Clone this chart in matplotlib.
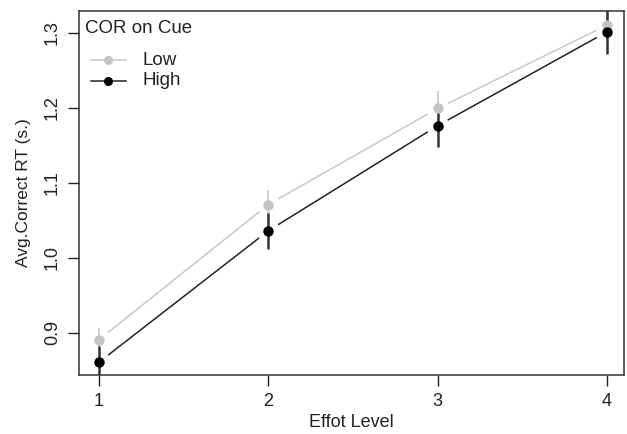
import matplotlib
matplotlib.use("Agg")
import matplotlib.pyplot as plt
import numpy as np
from matplotlib.lines import Line2D

plt.rcParams['font.family'] = ['Liberation Sans', 'DejaVu Sans']

levels = [1, 2, 3, 4]
low_mean = [0.891, 1.071, 1.199, 1.310]
low_err = [0.015, 0.020, 0.023, 0.020]
high_mean = [0.861, 1.036, 1.176, 1.301]
high_err = [0.022, 0.024, 0.028, 0.029]
yticks = [0.9, 1.0, 1.1, 1.2, 1.3]
yticklabels = ["0.9", "1.0", "1.1", "1.2", "1.3"]
series = [("Low", low_mean, low_err, "#c8c8c8", "#c4c4c4", "#cccccc", 1.3),
          ("High", high_mean, high_err, "#222222", "#000000", "#333333", 1.8)]

fig = plt.figure(figsize=(6.27, 4.34), dpi=100)
ax = fig.add_axes([0.126, 0.136, 0.869, 0.839])
ax.set_xlim(0.882, 4.10)
ax.set_ylim(0.844, 1.329)

GAP = 11.5  # pixels of gap around each point (R type="b")
for name, m, e, lc, pc, ec, ew in series:
    ax.errorbar(levels, m, yerr=e, fmt='none', ecolor=ec,
                elinewidth=ew, capsize=0, zorder=2)
    pts = ax.transData.transform(np.column_stack([levels, m]))
    inv = ax.transData.inverted()
    for i in range(len(levels) - 1):
        p0, p1 = pts[i], pts[i + 1]
        d = p1 - p0
        u = d / np.hypot(*d)
        a = inv.transform(p0 + u * GAP)
        b = inv.transform(p1 - u * GAP)
        ax.plot([a[0], b[0]], [a[1], b[1]], color=lc, lw=1.1, zorder=2,
                solid_capstyle='butt')
    ax.plot(levels, m, linestyle='none', marker='o', markersize=7.5,
            color=pc, markeredgewidth=0, zorder=3)

ax.set_xticks(levels)
ax.set_xticklabels([str(v) for v in levels])
ax.set_yticks(yticks)
ax.set_yticklabels(yticklabels, rotation=90, va='center')
ax.tick_params(direction='out', length=8, width=1, labelsize=13, pad=5, colors='#222222')
for s in ax.spines.values():
    s.set_linewidth(1.1)
    s.set_color('#333333')

ax.set_xlabel("Effot Level", fontsize=13, color='#222222', labelpad=3)
ax.set_ylabel("Avg.Correct RT (s.)", fontsize=12.5, color='#222222', labelpad=9)

# legend (R style, no frame)
ax.text(0.011, 0.951, "COR on Cue", transform=ax.transAxes, fontsize=13.5,
        color='#222222', ha='left', va='center')
leg_y = [0.865, 0.808]
for (name, m, e, lc, pc, ec, ew), yy in zip(series, leg_y):
    ax.add_line(Line2D([0.022, 0.086], [yy, yy], transform=ax.transAxes,
                       color=lc, lw=1.1))
    ax.add_line(Line2D([0.054], [yy], transform=ax.transAxes, marker='o',
                       markersize=6.5, color=pc, markeredgewidth=0, linestyle='none'))
    ax.text(0.117, yy, name, transform=ax.transAxes, fontsize=13.5,
            color='#222222', ha='left', va='center')

fig.savefig("out.png", dpi=100)
